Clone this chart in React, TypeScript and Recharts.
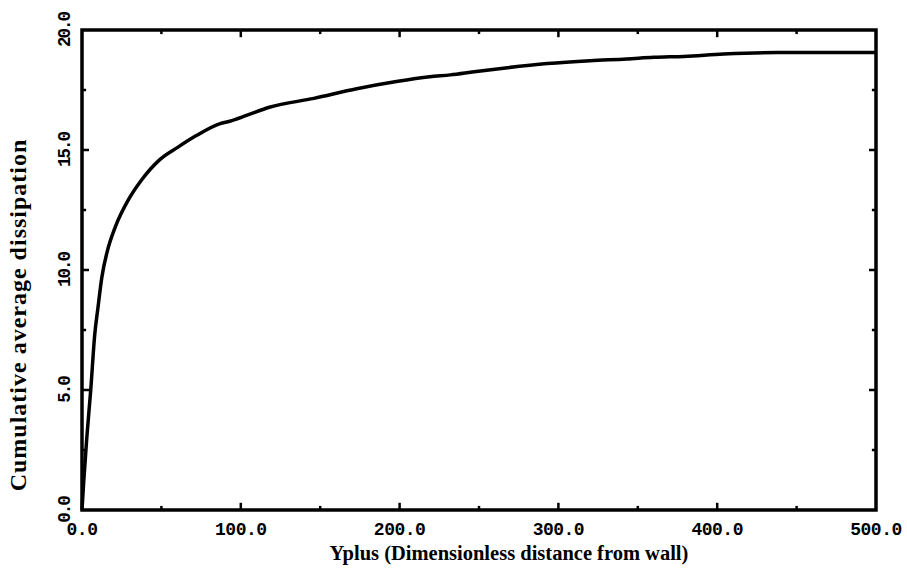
import React from 'react';
import { LineChart, Line, XAxis, YAxis, Label, ReferenceLine, ReferenceArea } from 'recharts';

const yplus = [0, 1, 3, 5.5, 8, 10, 12.5, 16, 21, 29, 37.5, 49, 60, 72, 87, 93, 104, 118, 146, 173, 198, 219, 232, 247, 268, 293, 320, 343, 360, 379, 404, 438, 470, 500];
const dissipation = [0, 1.1, 3.0, 5.0, 7.3, 8.4, 9.7, 10.8, 11.8, 12.9, 13.75, 14.6, 15.1, 15.6, 16.1, 16.2, 16.45, 16.78, 17.15, 17.55, 17.85, 18.05, 18.13, 18.26, 18.43, 18.6, 18.72, 18.79, 18.86, 18.9, 19.0, 19.06, 19.06, 19.06];

const xTicks = [0, 50, 100, 150, 200, 250, 300, 350, 400, 450, 500];
const yTicks = [0, 2.5, 5, 7.5, 10, 12.5, 15, 17.5, 20];
const xInnerTicks = [50, 100, 150, 200, 250, 300, 350, 400, 450];
const yInnerTicks = [2.5, 5, 7.5, 10, 12.5, 15, 17.5];

const xTitle = 'Yplus (Dimensionless distance from wall)';
const yTitle = 'Cumulative average dissipation';

const X_MIN = 0, X_MAX = 500, Y_MIN = 0, Y_MAX = 20;
// tick lengths expressed in data units (major / minor)
const X_TICK_LEN_Y = { major: 0.3, minor: 0.17 };
const Y_TICK_LEN_X = { major: 4.4, minor: 2.6 };

const data = yplus.map((x, i) => ({ x, y: dissipation[i] }));

const monoFont = '"Liberation Mono", "DejaVu Sans Mono", monospace';
const serifFont = '"Liberation Serif", "DejaVu Serif", serif';

const BottomTick = (props: any) => {
  const { x, y, payload } = props;
  const v = payload.value;
  if (v % 100 !== 0) return <g />;
  return (
    <text x={x} y={y + 25} textAnchor="middle" fontFamily={monoFont} fontWeight="bold" fontSize={18} letterSpacing={-0.5} fill="#000">
      {v.toFixed(1)}
    </text>
  );
};

const LeftTick = (props: any) => {
  const { x, y, payload } = props;
  const v = payload.value;
  if (v % 5 !== 0) return <g />;
  const cx = x - 17;
  return (
    <text
      x={cx}
      y={y}
      transform={`rotate(-90 ${cx} ${y})`}
      textAnchor="middle"
      dominantBaseline="central"
      fontFamily={monoFont}
      fontWeight="bold"
      fontSize={17.5}
      letterSpacing={-2}
      fill="#000"
    >
      {v.toFixed(1)}
    </text>
  );
};

const XTitle = (props: any) => {
  const vb = props.viewBox || { x: 0, y: 0, width: 0, height: 0 };
  return (
    <text x={vb.x + vb.width / 2 + 30} y={vb.y + 50} textAnchor="middle" fontFamily={serifFont} fontWeight="bold" fontSize={20.5} fill="#000">
      {xTitle}
    </text>
  );
};

const YTitle = (props: any) => {
  const vb = props.viewBox || { x: 0, y: 0, width: 0, height: 0 };
  const cx = vb.x + 18;
  const cy = vb.y + vb.height / 2 + 45;
  return (
    <text x={cx} y={cy} transform={`rotate(-90 ${cx} ${cy})`} textAnchor="middle" dominantBaseline="central" fontFamily={serifFont} fontWeight="bold" fontSize={24} letterSpacing={1} fill="#000">
      {yTitle}
    </text>
  );
};

export default function App() {
  return (
    <div style={{ position: 'absolute', left: 0, top: 0, width: 907, height: 569, background: '#fff' }}>
      <LineChart width={907} height={569} data={data} margin={{ top: 30, right: 31, bottom: 0, left: 0 }}>
        <XAxis
          xAxisId="b"
          dataKey="x"
          type="number"
          domain={[X_MIN, X_MAX]}
          ticks={xTicks}
          interval={0}
          orientation="bottom"
          height={59}
          axisLine={false}
          tickLine={false}
          tickSize={0}
          tickMargin={0}
          tick={<BottomTick />}
        >
          <Label content={<XTitle />} />
        </XAxis>
        <YAxis
          yAxisId="l"
          type="number"
          domain={[Y_MIN, Y_MAX]}
          ticks={yTicks}
          interval={0}
          orientation="left"
          width={82}
          axisLine={false}
          tickLine={false}
          tickSize={0}
          tickMargin={0}
          tick={<LeftTick />}
        >
          <Label content={<YTitle />} />
        </YAxis>
        {xInnerTicks.map((v) => {
          const len = v % 100 === 0 ? X_TICK_LEN_Y.major : X_TICK_LEN_Y.minor;
          return (
            <React.Fragment key={'xt' + v}>
              <ReferenceLine xAxisId="b" yAxisId="l" segment={[{ x: v, y: Y_MIN }, { x: v, y: Y_MIN + len }]} stroke="#000" strokeWidth={2.5} />
              <ReferenceLine xAxisId="b" yAxisId="l" segment={[{ x: v, y: Y_MAX }, { x: v, y: Y_MAX - len }]} stroke="#000" strokeWidth={2.5} />
            </React.Fragment>
          );
        })}
        {yInnerTicks.map((v) => {
          const len = v % 5 === 0 ? Y_TICK_LEN_X.major : Y_TICK_LEN_X.minor;
          return (
            <React.Fragment key={'yt' + v}>
              <ReferenceLine xAxisId="b" yAxisId="l" segment={[{ x: X_MIN, y: v }, { x: X_MIN + len, y: v }]} stroke="#000" strokeWidth={2.5} />
              <ReferenceLine xAxisId="b" yAxisId="l" segment={[{ x: X_MAX, y: v }, { x: X_MAX - len, y: v }]} stroke="#000" strokeWidth={2.5} />
            </React.Fragment>
          );
        })}
        <Line
          xAxisId="b"
          yAxisId="l"
          dataKey="y"
          type="monotone"
          stroke="#000"
          strokeWidth={3.5}
          dot={false}
          isAnimationActive={false}
        />
        <ReferenceArea xAxisId="b" yAxisId="l" x1={X_MIN} x2={X_MAX} y1={Y_MIN} y2={Y_MAX} fill="none" fillOpacity={0} stroke="#000" strokeWidth={3.5} />
      </LineChart>
    </div>
  );
}
